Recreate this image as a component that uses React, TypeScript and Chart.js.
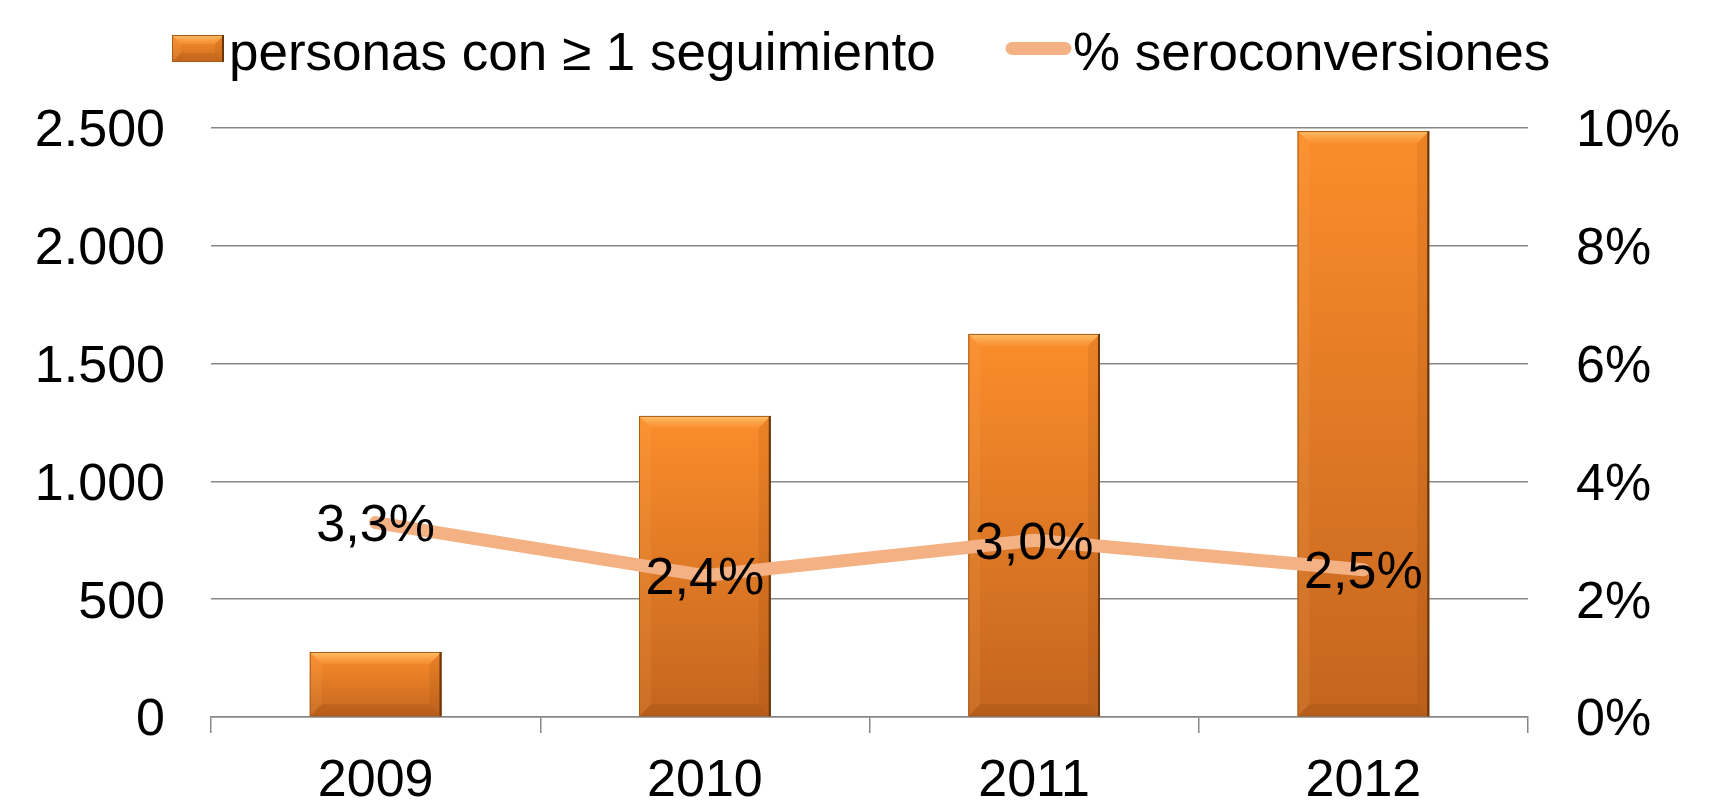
import React, { useEffect, useRef } from 'react';
import { Chart, registerables } from 'chart.js';

Chart.register(...registerables);

// ---- data ----
const categories = ['2009', '2010', '2011', '2012'];
const personas = [276, 1278, 1626, 2487];
const seroconversiones = [3.3, 2.4, 3.0, 2.5];
const leftTicks = [0, 500, 1000, 1500, 2000, 2500];
const rightTicks = [0, 2, 4, 6, 8, 10];
const seriesNames = ['personas con \u2265 1 seguimiento', '% seroconversiones'];

const FONT = "'Liberation Sans', Arial, sans-serif";
const LINE_COLOR = '#F4B183';
const GRID_COLOR = '#878787';

const fmtThousands = (v: number) => String(v).replace(/\B(?=(\d{3})+(?!\d))/g, '.');
const fmtPct = (v: number) => v.toFixed(1).replace('.', ',') + '%';

function drawBevelBox(ctx: CanvasRenderingContext2D, left: number, top: number, right: number, bottom: number) {
  const w = right - left;
  const h = bottom - top;
  const b = Math.min(12, w / 4, h / 3);
  const gt = ctx.createLinearGradient(0, top, 0, top + b);
  gt.addColorStop(0, '#FDC26A');
  gt.addColorStop(1, 'rgba(250,150,60,0.5)');
  ctx.fillStyle = gt;
  ctx.beginPath();
  ctx.moveTo(left, top);
  ctx.lineTo(right, top);
  ctx.lineTo(right - b, top + b);
  ctx.lineTo(left + b, top + b);
  ctx.closePath();
  ctx.fill();
  ctx.fillStyle = 'rgba(255,190,110,0.12)';
  ctx.beginPath();
  ctx.moveTo(left, top);
  ctx.lineTo(left + b, top + b);
  ctx.lineTo(left + b, bottom - b);
  ctx.lineTo(left, bottom);
  ctx.closePath();
  ctx.fill();
  ctx.fillStyle = 'rgba(120,55,10,0.12)';
  ctx.beginPath();
  ctx.moveTo(right, top);
  ctx.lineTo(right - b, top + b);
  ctx.lineTo(right - b, bottom - b);
  ctx.lineTo(right, bottom);
  ctx.closePath();
  ctx.fill();
  ctx.fillStyle = 'rgba(110,50,10,0.15)';
  ctx.beginPath();
  ctx.moveTo(left, bottom);
  ctx.lineTo(left + b, bottom - b);
  ctx.lineTo(right - b, bottom - b);
  ctx.lineTo(right, bottom);
  ctx.closePath();
  ctx.fill();
  ctx.lineWidth = 1;
  ctx.strokeStyle = '#A85A18';
  ctx.strokeRect(left + 0.5, top + 0.5, w - 1, h - 1);
  ctx.strokeStyle = '#6A360C';
  ctx.lineWidth = 2;
  ctx.beginPath();
  ctx.moveTo(right - 1, top);
  ctx.lineTo(right - 1, bottom);
  ctx.stroke();
}

const bevelPlugin = {
  id: 'bevel',
  afterDatasetDraw(chart: any, args: any) {
    if (args.index !== 0) return;
    const ctx = chart.ctx as CanvasRenderingContext2D;
    const meta = chart.getDatasetMeta(0);
    ctx.save();
    meta.data.forEach((el: any) => {
      const { x, y, base, width } = el.getProps(['x', 'y', 'base', 'width'], true);
      drawBevelBox(ctx, x - width / 2, Math.min(y, base), x + width / 2, Math.max(y, base));
    });
    ctx.restore();
  },
};

const dataLabelPlugin = {
  id: 'dataLabels',
  afterDatasetsDraw(chart: any) {
    const ctx = chart.ctx as CanvasRenderingContext2D;
    const meta = chart.getDatasetMeta(1);
    ctx.save();
    ctx.font = `52px ${FONT}`;
    ctx.fillStyle = '#000000';
    ctx.textAlign = 'center';
    ctx.textBaseline = 'middle';
    meta.data.forEach((pt: any, i: number) => {
      ctx.fillText(fmtPct(seroconversiones[i]), pt.x, pt.y + 4);
    });
    ctx.restore();
  },
};

const legendPlugin = {
  id: 'customLegend',
  afterDraw(chart: any) {
    const ctx = chart.ctx as CanvasRenderingContext2D;
    ctx.save();
    const sx = 172, sy = 35, sw = 52, sh = 27;
    const g = ctx.createLinearGradient(0, sy, 0, sy + sh);
    g.addColorStop(0, '#F98C2C');
    g.addColorStop(1, '#D0701F');
    ctx.fillStyle = g;
    ctx.fillRect(sx, sy, sw, sh);
    drawBevelBox(ctx, sx, sy, sx + sw, sy + sh);
    ctx.font = `53px ${FONT}`;
    ctx.fillStyle = '#000000';
    ctx.textAlign = 'left';
    ctx.textBaseline = 'middle';
    ctx.fillText(seriesNames[0], 229, 55);
    ctx.strokeStyle = LINE_COLOR;
    ctx.lineWidth = 13;
    ctx.lineCap = 'round';
    ctx.beginPath();
    ctx.moveTo(1012, 48.5);
    ctx.lineTo(1065, 48.5);
    ctx.stroke();
    ctx.fillText(seriesNames[1], 1073, 55);
    ctx.restore();
  },
};

export default function App() {
  const ref = useRef<HTMLCanvasElement | null>(null);

  useEffect(() => {
    if (!ref.current) return;
    Chart.defaults.font.family = FONT;
    const chart = new Chart(ref.current, {
      type: 'bar',
      data: {
        labels: categories,
        datasets: [
          {
            type: 'bar',
            label: seriesNames[0],
            data: personas,
            yAxisID: 'y',
            order: 2,
            barPercentage: 0.4,
            categoryPercentage: 1,
            borderWidth: 0,
            backgroundColor: (c: any) => {
              const chart = c.chart;
              if (c.type !== 'data' || !chart.chartArea) return '#F58A2B';
              const ys = chart.scales.y;
              const top = ys.getPixelForValue(c.raw);
              const bottom = ys.getPixelForValue(0);
              const grad = chart.ctx.createLinearGradient(0, top, 0, bottom);
              grad.addColorStop(0, '#FB8D2B');
              grad.addColorStop(1, '#C4651F');
              return grad;
            },
          },
          {
            type: 'line',
            label: seriesNames[1],
            data: seroconversiones,
            yAxisID: 'y1',
            order: 1,
            borderColor: LINE_COLOR,
            backgroundColor: LINE_COLOR,
            borderWidth: 13,
            borderCapStyle: 'round',
            borderJoinStyle: 'round',
            pointRadius: 0,
            pointHoverRadius: 0,
            tension: 0,
            fill: false,
          },
        ],
      },
      options: {
        responsive: false,
        animation: false,
        layout: { padding: { top: 128, left: 0, right: 0, bottom: 0 } },
        plugins: {
          legend: { display: false },
          tooltip: { enabled: false },
          title: { display: false },
        },
        scales: {
          x: {
            offset: true,
            grid: {
              display: true,
              drawOnChartArea: false,
              drawTicks: true,
              tickLength: 16,
              offset: true,
              color: GRID_COLOR,
              lineWidth: 1.5,
            },
            border: { display: true, color: GRID_COLOR, width: 1.5 },
            ticks: {
              padding: 17,
              color: '#000000',
              font: { size: 52, family: FONT },
              maxRotation: 0,
            },
            afterFit(scale: any) {
              scale.height = 83;
            },
          },
          y: {
            position: 'left',
            min: 0,
            max: 2500,
            grid: {
              color: GRID_COLOR,
              lineWidth: 1.5,
              drawTicks: false,
            },
            border: { display: false },
            afterBuildTicks(scale: any) {
              scale.ticks = leftTicks.map((v) => ({ value: v }));
            },
            ticks: {
              padding: 46,
              labelOffset: 4,
              color: '#000000',
              font: { size: 52, family: FONT },
              callback: (v: any) => fmtThousands(Number(v)),
            },
            afterFit(scale: any) {
              scale.width = 211;
            },
          },
          y1: {
            position: 'right',
            min: 0,
            max: 10,
            grid: { display: false, drawOnChartArea: false, drawTicks: false },
            border: { display: false },
            afterBuildTicks(scale: any) {
              scale.ticks = rightTicks.map((v) => ({ value: v }));
            },
            ticks: {
              padding: 48,
              labelOffset: 4,
              color: '#000000',
              font: { size: 52, family: FONT },
              callback: (v: any) => `${v}%`,
            },
            afterFit(scale: any) {
              scale.width = 191;
            },
          },
        },
      },
      plugins: [bevelPlugin, dataLabelPlugin, legendPlugin],
    } as any);
    return () => chart.destroy();
  }, []);

  return (
    <div style={{ position: 'absolute', left: 0, top: 0, width: 1719, height: 800, background: '#ffffff' }}>
      <canvas ref={ref} width={1719} height={800} style={{ display: 'block', width: 1719, height: 800 }} />
    </div>
  );
}
